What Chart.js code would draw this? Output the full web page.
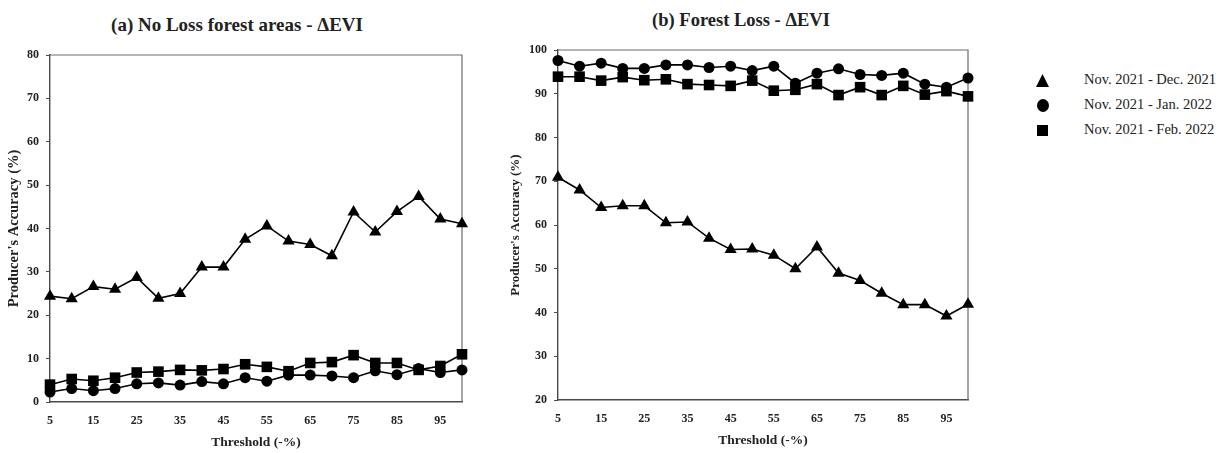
<!DOCTYPE html>
<html>
<head>
<meta charset="utf-8">
<script src="https://cdn.jsdelivr.net/npm/chart.js@4/dist/chart.umd.min.js"></script>
<style>
  html, body { margin: 0; padding: 0; background: #fff; }
  #wrap { position: relative; width: 1226px; height: 453px; overflow: hidden; font-family: "Liberation Serif", "DejaVu Serif", serif; color: #222; }
  .title { position: absolute; font-weight: bold; white-space: nowrap; transform: translate(-50%, -50%); }
  .chart { position: absolute; top: 0; }
  #legend { position: absolute; left: 1030px; top: 68px; font-size: 14.5px; }
  .row { position: relative; height: 25px; }
  .row span { position: absolute; left: 54px; top: 3px; white-space: nowrap; }
  .mk { position: absolute; left: 6px; top: 6px; width: 13px; height: 13px; background: #000; }
  .tri { clip-path: polygon(50% 0, 100% 100%, 0 100%); }
  .dot { border-radius: 50%; width: 12px; height: 13px; left: 7px; }
  .sq { width: 11px; height: 11px; left: 7px; top: 7px; }
</style>
</head>
<body>
<div id="wrap">
  <div class="title" style="left:237px; top:25px; font-size:19px;">(a) No Loss forest areas - ΔEVI</div>
  <div class="title" style="left:741px; top:20px; font-size:18.5px;">(b) Forest Loss - ΔEVI</div>
  <canvas id="chartA" class="chart" style="left:0px;" width="500" height="453"></canvas>
  <canvas id="chartB" class="chart" style="left:500px;" width="490" height="453"></canvas>
  <div id="legend"></div>
</div>
<script>
// threshold steps on the x axis
const thresholds = [5, 10, 15, 20, 25, 30, 35, 40, 45, 50, 55, 60, 65, 70, 75, 80, 85, 90, 95, 100];

const seriesNames = ['Nov. 2021 - Dec. 2021', 'Nov. 2021 - Jan. 2022', 'Nov. 2021 - Feb. 2022'];

// (a) no-loss forest areas
const noLossDec = [24.4, 23.8, 26.6, 26.0, 28.7, 23.9, 25.0, 31.1, 31.1, 37.5, 40.6, 37.1, 36.3, 33.7, 43.8, 39.2, 43.9, 47.4, 42.2, 41.1];
const noLossJan = [2.3, 3.1, 2.6, 3.1, 4.2, 4.4, 3.9, 4.7, 4.2, 5.6, 4.8, 6.2, 6.2, 6.0, 5.6, 7.2, 6.3, 7.7, 6.8, 7.4];
const noLossFeb = [4.0, 5.3, 4.9, 5.6, 6.8, 7.0, 7.4, 7.3, 7.6, 8.7, 8.1, 7.1, 9.0, 9.2, 10.8, 9.0, 9.0, 7.4, 8.3, 11.0];

// (b) forest loss
const lossDec = [70.9, 68.0, 64.0, 64.4, 64.4, 60.5, 60.7, 57.0, 54.4, 54.5, 53.1, 50.0, 55.0, 49.0, 47.3, 44.4, 41.8, 41.8, 39.2, 41.9];
const lossJan = [97.6, 96.3, 97.0, 95.8, 95.8, 96.6, 96.6, 96.0, 96.3, 95.3, 96.3, 92.4, 94.7, 95.7, 94.4, 94.2, 94.7, 92.2, 91.5, 93.6];
const lossFeb = [93.9, 93.9, 93.0, 93.8, 93.1, 93.3, 92.2, 92.0, 91.8, 93.0, 90.7, 90.9, 92.2, 89.7, 91.5, 89.7, 91.8, 89.8, 90.6, 89.4];

const yTicksA = { min: 0, max: 80, step: 10 };
const yTicksB = { min: 20, max: 100, step: 10 };

const FONT = '"Liberation Serif", "DejaVu Serif", serif';
const AXIS = '#4a4a4a';

const markers = [
    { pointStyle: 'triangle', pointRadius: 7 },
    { pointStyle: 'circle', pointRadius: 5.5 },
    { pointStyle: 'rect', pointRadius: 7.5 },
];

// closes the plot box along the top and right edges
const frameBox = {
    id: 'frameBox',
    beforeDatasetsDraw(chart) {
        const { ctx, chartArea: a } = chart;
        ctx.save();
        ctx.strokeStyle = '#6a6a6a';
        ctx.lineWidth = 1.2;
        ctx.beginPath();
        ctx.moveTo(a.left, a.top);
        ctx.lineTo(a.right, a.top);
        ctx.lineTo(a.right, a.bottom);
        ctx.stroke();
        ctx.restore();
    },
};

function makeDatasets(values) {
    return values.map((data, i) => ({
        label: seriesNames[i],
        data,
        borderColor: '#000',
        backgroundColor: '#000',
        borderWidth: 1.6,
        pointBorderColor: '#000',
        pointBackgroundColor: '#000',
        pointBorderWidth: 0,
        tension: 0,
        clip: false,
        ...markers[i],
    }));
}

function buildChart(canvasId, values, yRange, cfg) {
    return new Chart(document.getElementById(canvasId), {
        type: 'line',
        data: { labels: thresholds.map(String), datasets: makeDatasets(values) },
        options: {
            responsive: false,
            animation: false,
            devicePixelRatio: 1,
            layout: { padding: cfg.padding },
            plugins: { legend: { display: false }, tooltip: { enabled: false } },
            scales: {
                x: {
                    offset: false,
                    grid: { display: false, drawTicks: false },
                    border: { display: true, color: AXIS, width: 1.4 },
                    ticks: {
                        autoSkip: false,
                        maxRotation: 0,
                        padding: 12,
                        color: '#222',
                        font: { family: FONT, size: 12, weight: 'bold' },
                        callback: (v, i) => (i % 2 === 0 ? thresholds[i] : ''),
                    },
                    title: {
                        display: true,
                        text: 'Threshold (-%)',
                        color: '#222',
                        font: { family: FONT, size: 13.5, weight: 'bold' },
                        padding: { top: 0, bottom: 2 },
                    },
                    afterFit: s => { s.height = 51; },
                },
                y: {
                    min: yRange.min,
                    max: yRange.max,
                    ticks: {
                        stepSize: yRange.step,
                        padding: 7,
                        color: '#222',
                        font: { family: FONT, size: 12, weight: 'bold' },
                    },
                    grid: { drawOnChartArea: false, drawTicks: true, tickLength: 4, color: AXIS },
                    border: { display: true, color: AXIS, width: 1.4 },
                    title: {
                        display: true,
                        text: "Producer's Accuracy (%)",
                        color: '#222',
                        font: { family: FONT, size: cfg.yTitleSize, weight: 'bold' },
                        padding: { top: cfg.yTitlePad, bottom: 0 },
                    },
                    afterFit: s => { s.width = cfg.yWidth; },
                },
            },
        },
        plugins: [frameBox],
    });
}

buildChart('chartA', [noLossDec, noLossJan, noLossFeb], yTicksA,
    { yWidth: 50, yTitleSize: 14.5, yTitlePad: 6, padding: { top: 55, right: 38, bottom: 0, left: 0 } });
buildChart('chartB', [lossDec, lossJan, lossFeb], yTicksB,
    { yWidth: 58, yTitleSize: 13, yTitlePad: 8, padding: { top: 50, right: 22, bottom: 2, left: 0 } });

// legend rows
const legendEl = document.getElementById('legend');
const shapeClass = ['tri', 'dot', 'sq'];
seriesNames.forEach((name, i) => {
    const row = document.createElement('div');
    row.className = 'row';
    row.innerHTML = `<div class="mk ${shapeClass[i]}"></div><span>${name}</span>`;
    legendEl.appendChild(row);
});
</script>
</body>
</html>
